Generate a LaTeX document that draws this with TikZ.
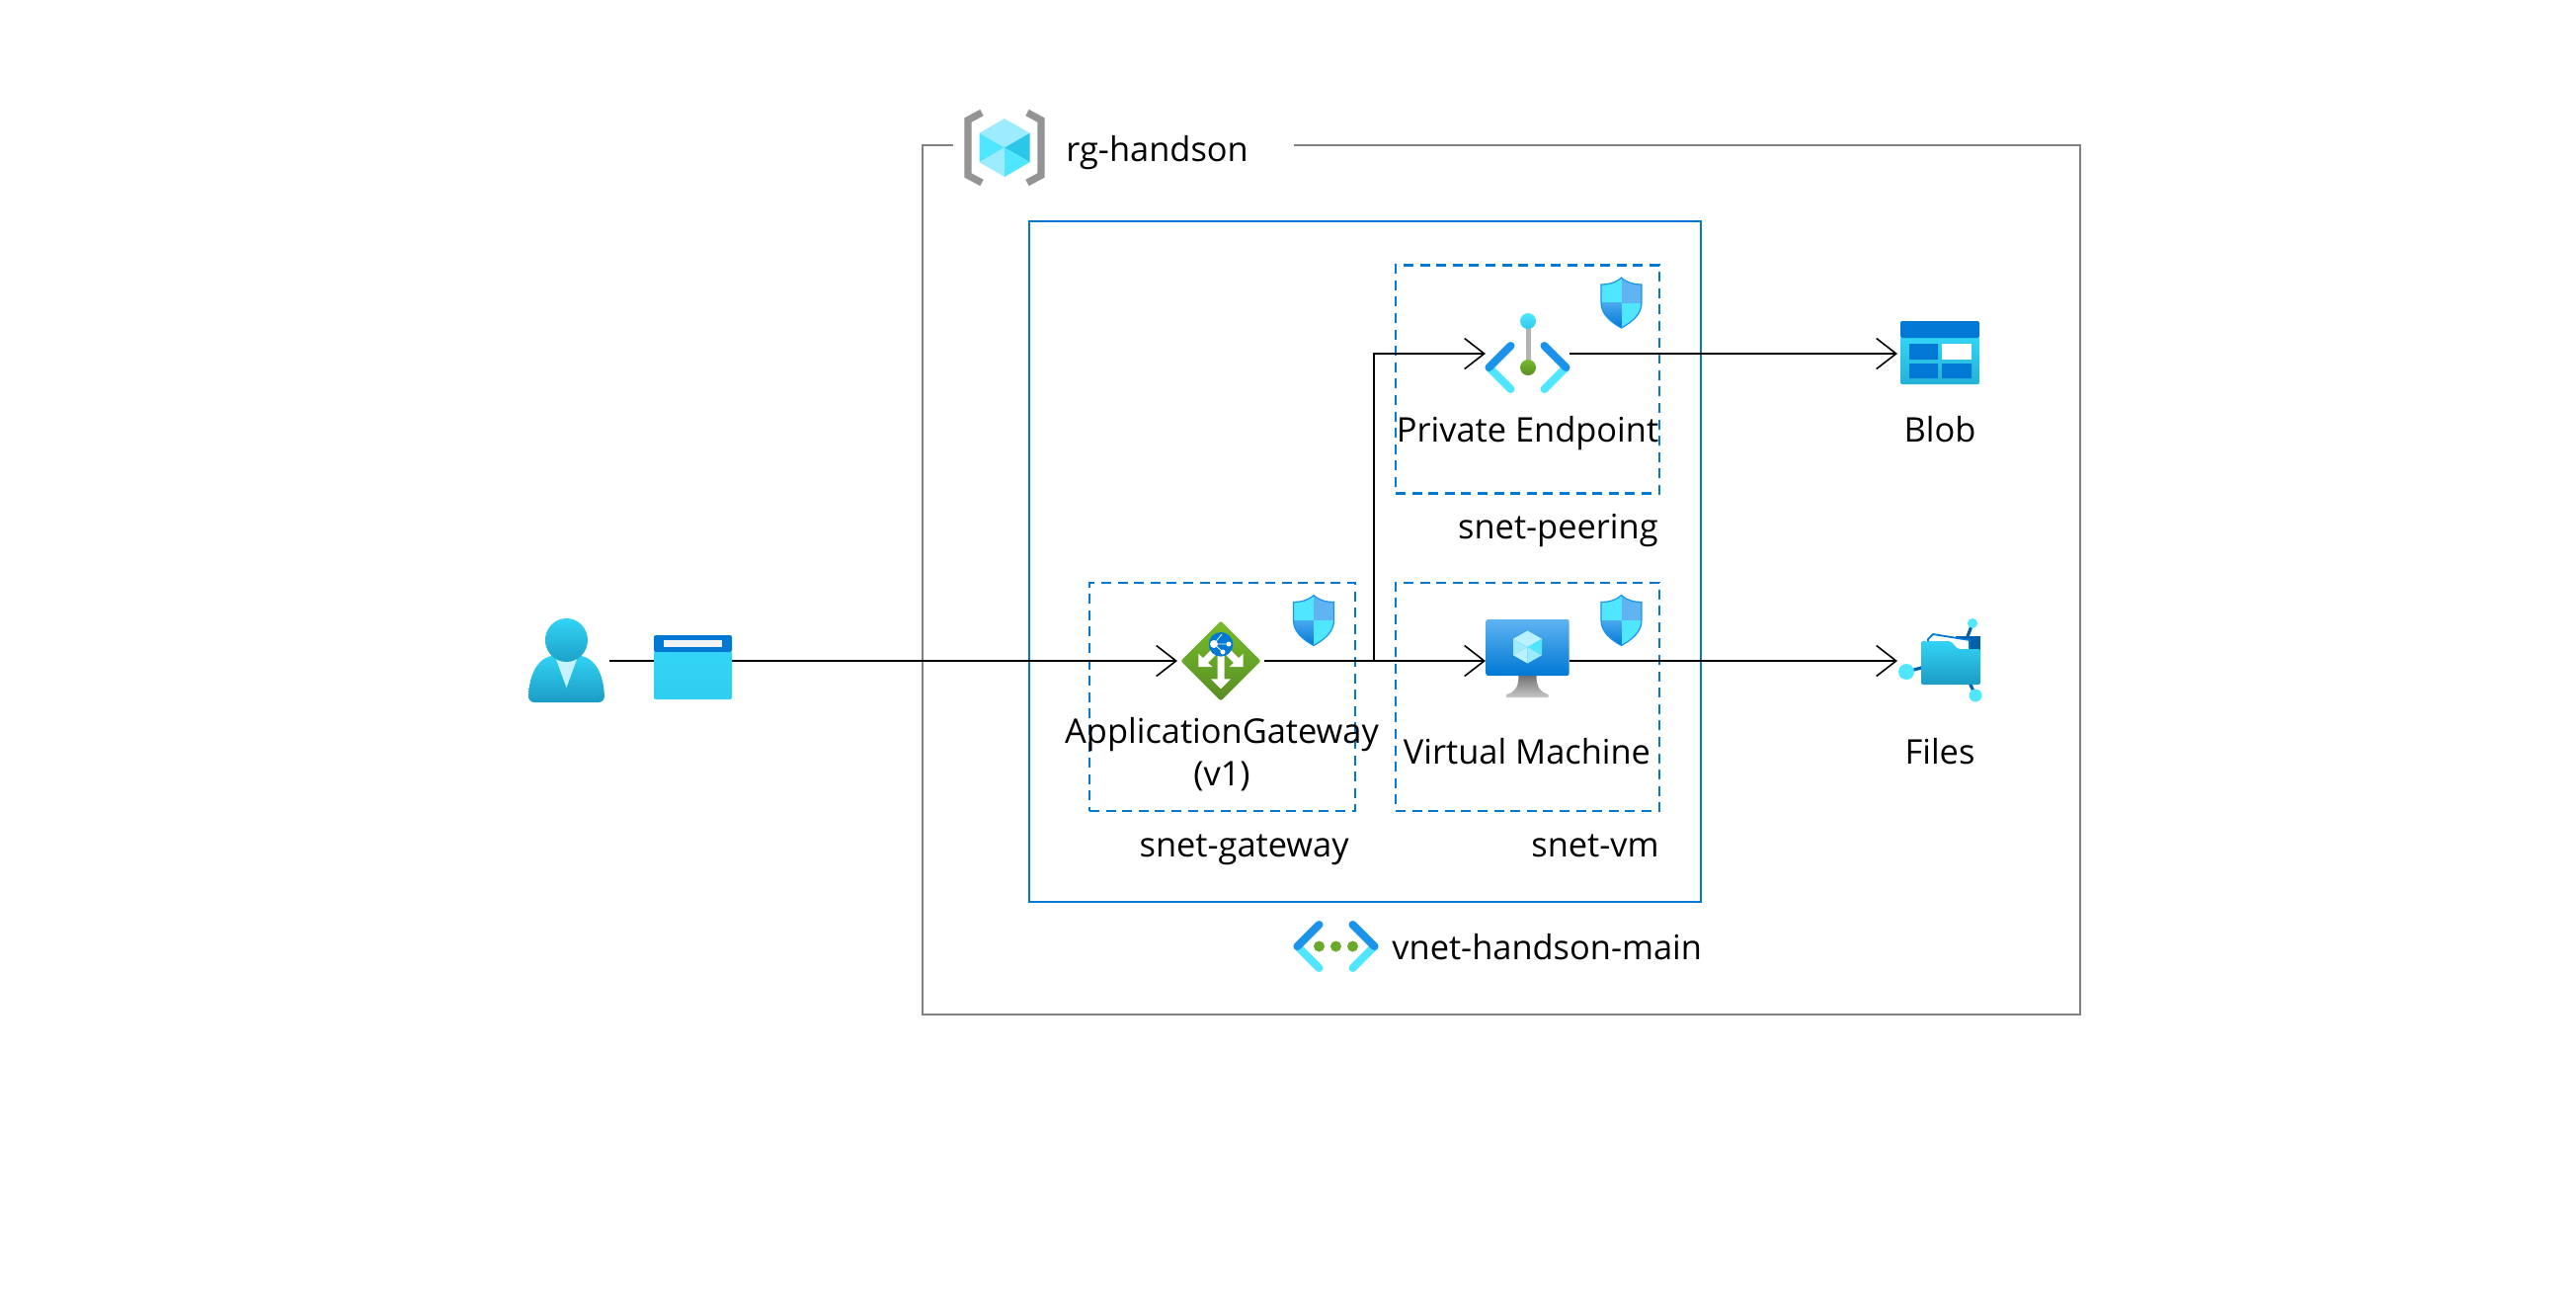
\documentclass[tikz,border=0pt]{standalone}
\usepackage{fontspec}
\setmainfont{Open Sans}
\usetikzlibrary{positioning, arrows.meta, calc}
\definecolor{azblue}{HTML}{0078D4}
\definecolor{azmid}{HTML}{1B93EB}
\definecolor{azsky}{HTML}{50E6FF}
\definecolor{azcyan}{HTML}{32D4F5}
\definecolor{azdeep}{HTML}{1B9BC4}
\definecolor{azpale}{HTML}{9CEBFF}
\definecolor{azgreen}{HTML}{76BC2D}
\tikzset{
  x=.5pt, y=-.5pt, % one unit is one pixel of the reference
  >={Straight Barb[length=10pt, width=15.5pt, line width=.8pt]},
  rgbox/.style={draw=black!50, line width=1.4pt},
  vnetbox/.style={draw=azblue, line width=1.3pt, inner sep=0pt, outer sep=0pt, minimum width=340pt, minimum height=344.5pt},
  subnetbox/.style={draw=azblue, line width=1.35pt, dash pattern=on 5pt off 3.3pt, inner sep=0pt, outer sep=0pt, minimum width=133.5pt, minimum height=115.5pt},
  iconnode/.style={inner sep=0pt, outer sep=0pt, minimum width=43pt, minimum height=30pt},
  flow/.style={draw=black, line width=1pt},
  caption/.style={font=\fontsize{17.2}{21.5}\selectfont, text=black, inner sep=0pt, anchor=base},
  % cube, six faces: w, r, upper, left, right
  pics/cubeicon/.style n args={5}{code={
    \fill[#3] (0,0) -- (-#1,-#2/2) -- (0,-#2) -- (#1,-#2/2) -- cycle;
    \fill[#4] (0,0) -- (-#1,-#2/2) -- (-#1,#2/2) -- cycle;
    \fill[#5] (0,0) -- (#1,-#2/2) -- (#1,#2/2) -- cycle;
    \fill[#3] (0,0) -- (-#1,#2/2) -- (0,#2) -- cycle;
    \fill[#4] (0,0) -- (#1,#2/2) -- (0,#2) -- cycle;
  }},
  pics/chevrons/.style={code={
    \draw[azsky, line width=4pt, line cap=round] (-39,0) -- (-17,22) (39,0) -- (17,22);
    \draw[azmid, line width=4pt, line cap=round] (-17,-22) -- (-39,0) (17,-22) -- (39,0);
  }},
  pics/shieldicon/.style={code={
    \begin{scope}
      \clip (0,-25.5) .. controls (6,-20) and (13,-18.5) .. (20.5,-18.5) -- (20.5,0) .. controls (20.5,12) and (10,20) .. (0,25.5) .. controls (-10,20) and (-20.5,12) .. (-20.5,0) -- (-20.5,-18.5) .. controls (-13,-18.5) and (-6,-20) .. cycle;
      \fill[azsky] (-21,-26) rectangle (0,0);
      \fill[azmid!70!white] (0,-26) rectangle (21,0);
      \shade[top color=azmid!80!white, bottom color=azblue] (-21,0) rectangle (0,26);
      \fill[azsky] (0,0) rectangle (21,26);
    \end{scope}
    \draw[azmid, line width=.6pt] (0,-25.5) .. controls (6,-20) and (13,-18.5) .. (20.5,-18.5) -- (20.5,0) .. controls (20.5,12) and (10,20) .. (0,25.5) .. controls (-10,20) and (-20.5,12) .. (-20.5,0) -- (-20.5,-18.5) .. controls (-13,-18.5) and (-6,-20) .. cycle;
  }},
  pics/usericon/.style={code={
    \shade[top color=azcyan, bottom color=azdeep, rounded corners=3pt] (-38.5,42) .. controls (-38,15) and (-30,0) .. (-13,-6) -- (13,-6) .. controls (30,0) and (38,15) .. (38.5,42) -- cycle;
    \fill[azpale!60!white] (-11,-3) -- (11,-3) -- (0,27) -- cycle;
    \shade[top color=azcyan, bottom color=azdeep!90!azcyan] (0,-21) ellipse [x radius=21.5, y radius=22];
  }},
  pics/browsericon/.style={code={
    \shade[top color=azcyan, bottom color=azcyan!90!azdeep, rounded corners=1pt] (-39.5,-10) rectangle (39.5,39);
    \fill[azblue, rounded corners=1pt] (-39.5,-26) rectangle (39.5,-9);
    \fill[black!5] (-29.5,-21) rectangle (29.5,-14);
  }},
  pics/gatewayicon/.style={code={
    \shade[top color=azgreen, bottom color=azgreen!75!black, rounded corners=1pt] (0,-40.5) -- (40.5,0) -- (0,40.5) -- (-40.5,0) -- cycle;
    \draw[white, line width=3.5pt] (0,-7) -- (0,19) (-16,0) -- (-6,-10) (16,0) -- (6,-10);
    \fill[white] (-10,18.3) -- (10,18.3) -- (0,28.3) -- cycle;
    \fill[white] (-22.7,-7.3) -- (-22.7,6) -- (-8.7,6) -- cycle;
    \fill[white] (22.7,-7.3) -- (22.7,6) -- (8.7,6) -- cycle;
    \fill[azblue] (0,-16.7) circle [radius=12.3];
    \fill[white] (-7,-17) circle [radius=4] (8,-17) circle [radius=2.5] (2,-9) circle [radius=2.5];
    \draw[white, line width=.4pt] (-7,-17) -- (8,-17) (-7,-17) -- (2,-9) (-7,-17) -- (1,-27);
  }},
  pics/endpointicon/.style={code={
    \pic at (0,14) {chevrons};
    \draw[black!30, line width=2.5pt] (0.5,-33) -- (0.5,14);
    \shade[top color=azsky, bottom color=azcyan!80!azdeep] (0.5,-33) circle [radius=8];
    \shade[top color=azgreen, bottom color=azgreen!75!black] (0.5,14) circle [radius=8];
  }},
  pics/vmicon/.style={code={
    \shade[top color=black!55, bottom color=black!22] (-9,15) -- (9,15) .. controls (9,28) and (14,32) .. (21,34) -- (21,37) -- (-21,37) -- (-21,34) .. controls (-14,32) and (-9,28) .. cycle;
    \shade[top color=azmid!70!white, bottom color=azblue, rounded corners=1pt] (-42,-42) rectangle (42,15);
    \pic at (0,-14) {cubeicon={14.5}{16.5}{azpale!70!white}{azpale}{azsky}};
  }},
  pics/blobicon/.style={code={
    \shade[top color=azcyan, bottom color=azdeep!60!azcyan, rounded corners=1pt] (-40,-17) rectangle (40,31);
    \fill[azblue, rounded corners=1pt] (-40,-33) rectangle (40,-16);
    \fill[azblue] (-31,-10) rectangle (-2,6) (-31,10) rectangle (-2,25) (2,10) rectangle (32,25);
    \fill[white] (2,-10) rectangle (32,6);
  }},
  pics/filesicon/.style={code={
    \draw[azblue!80!black, line width=1.6pt] (-34,11) -- (-15,6) (33,-38) -- (27,-22) (36,35) -- (30,22);
    \fill[azblue!80!black] (16,-25) -- (41,-25) -- (41,0) -- (16,0) -- cycle;
    \draw[azblue, line width=.9pt, fill=white] (-12,-3) -- (-12,-22) -- (-7,-27) -- (30,-21) -- (30,-3) -- cycle;
    \shade[top color=azcyan, bottom color=azdeep, rounded corners=1pt] (-19,24) -- (-19,-20) -- (11,-20) -- (18,-12) -- (41,-12) -- (41,24) -- cycle;
    \fill[azsky] (-34,11) circle [radius=8] (33,-38) circle [radius=5] (36,35) circle [radius=6.5];
  }},
  pics/rgicon/.style={code={
    \draw[black!42, line width=3.6pt, line join=miter] (-23,-35.5) -- (-37,-28) -- (-37,28) -- (-23,35.5) (23,-35.5) -- (37,-28) -- (37,28) -- (23,35.5);
    \pic at (0,0) {cubeicon={25.5}{29.5}{azpale}{azsky}{azcyan!75!azdeep}};
  }},
  pics/vneticon/.style={code={
    \pic at (0,0) {chevrons};
    \fill[azgreen!90!black] (-17,0) circle [radius=5.5] (0,0) circle [radius=5.5] (17,0) circle [radius=5.5];
  }},
}
\begin{document}
\begin{tikzpicture}
	\useasboundingbox (0,0) rectangle (2608,1314);

	% Cajas
	\coordinate (rgstart) at (965,147);
	\coordinate (rgend) at (1310,147);
	\draw [rgbox] (rgstart) -| (934,1027) -| (2106,147) -- (rgend);
	\node [vnetbox] (vnet) at (1382,568.5) {};
	\node [subnetbox] (snetpe) at (1546.5,384) {};
	\node [subnetbox] (snetvm) at (1546.5,705.5) {};
	\node [subnetbox, minimum width=134.5pt] (snetgw) at (1237.5,705.5) {};

	% Nodos
	\node [iconnode] (user) at (573.5,669) {};
	\node [iconnode, minimum width=39.5pt] (browser) at (701.5,669) {};
	\node [iconnode, minimum width=44pt] (appgw) at (1236,669) {};
	\node [iconnode, minimum width=42.5pt] (pe) at (1546.5,358) {};
	\node [iconnode, minimum width=42.5pt] (vm) at (1546.5,669) {};
	\node [iconnode] (blob) at (1964,358) {};
	\node [iconnode] (files) at (1964,669) {};
	\coordinate (split) at (1391,669);

	% Flechas
	\draw [flow] (user) -- (browser);
	\draw [flow, ->] (browser) -- (appgw);
	\draw [flow, ->] (appgw) -- (vm);
	\draw [flow, ->] (split) |- (pe);
	\draw [flow, ->] (pe) -- (blob);
	\draw [flow, ->] (vm) -- (files);

	% Iconos
	\pic at (user) {usericon};
	\pic at (browser) {browsericon};
	\pic at (appgw) {gatewayicon};
	\pic at (pe) {endpointicon};
	\pic at (vm) {vmicon};
	\pic at (blob) {blobicon};
	\pic at (files) {filesicon};
	\pic at (1017,149.5) {rgicon};
	\pic at (1352.5,958) {vneticon};
	\pic at (1641.5,306.5) {shieldicon};
	\pic at (1641.5,628) {shieldicon};
	\pic at (1330,628) {shieldicon};

	% Textos
	\node [caption, anchor=base west] (rglabel) at (1079,163) {rg-handson};
	\node [caption, anchor=base west] (vnetlabel) at (1409,971) {vnet-handson-main};
	\node [caption] (pelabel) at (1546.5,447.5) {Private Endpoint};
	\node [caption] (vmlabel) at (1546,773.5) {Virtual Machine};
	\node [caption, align=center, anchor=center] (gwlabel) at (1237,763.5) {ApplicationGateway\\(v1)};
	\node [caption] (bloblabel) at (1964,447.5) {Blob};
	\node [caption] (fileslabel) at (1964,773.5) {Files};
	\node [caption, anchor=base east] (peerlabel) at (1679,545.5) {snet-peering};
	\node [caption, anchor=base east] (snvmlabel) at (1680,867) {snet-vm};
	\node [caption, anchor=base east] (sngwlabel) at (1366,867) {snet-gateway};
\end{tikzpicture}
\end{document}
